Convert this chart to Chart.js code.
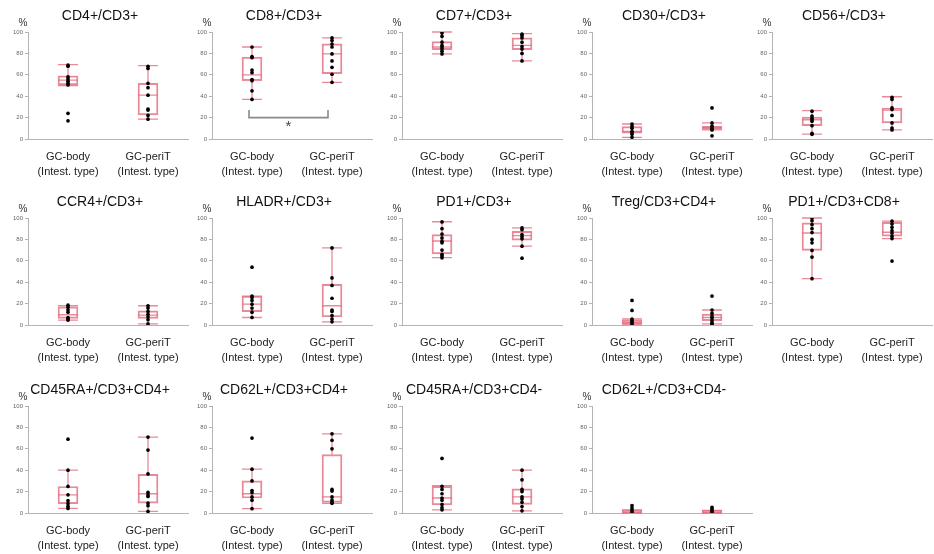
<!DOCTYPE html>
<html><head><meta charset="utf-8">
<script src="https://cdn.jsdelivr.net/npm/chart.js@4"></script>
<style>
html,body{margin:0;padding:0;background:#fff;}
#wrap{position:relative;width:934px;height:554px;overflow:hidden;background:#fff;}
canvas.panel{position:absolute;}
</style></head><body><div id="wrap"></div>
<script>
// ---------------- DATA ----------------
const panelTitles = [
  'CD4+/CD3+', 'CD8+/CD3+', 'CD7+/CD3+', 'CD30+/CD3+', 'CD56+/CD3+',
  'CCR4+/CD3+', 'HLADR+/CD3+', 'PD1+/CD3+', 'Treg/CD3+CD4+', 'PD1+/CD3+CD8+',
  'CD45RA+/CD3+CD4+', 'CD62L+/CD3+CD4+', 'CD45RA+/CD3+CD4-', 'CD62L+/CD3+CD4-'
];
const groupNames = ['GC-body', 'GC-periT'];
const groupSubLabel = '(Intest. type)';
const yTickValues = [0, 20, 40, 60, 80, 100];
const yUnit = '%';

// box statistics per panel: [GC-body, GC-periT]
const boxMin = [
  [50, 18.5], [37, 53], [79.5, 73], [1.6, 8.5], [4.5, 8.5],
  [4.5, 1], [7, 3], [63, 73.7], [0.5, 1], [43.3, 80.8],
  [4.3, 1.5], [4, 9], [3, 2], [0, 0]
];
const boxQ1 = [
  [50.5, 22.5], [54.5, 61], [83.5, 83.5], [5.5, 9], [12.5, 15],
  [6.2, 6.2], [12.4, 7.7], [66.5, 79.3], [1, 4], [69.7, 83],
  [8.7, 9.3], [14, 10], [7.5, 8], [0.3, 0.3]
];
const boxMedian = [
  [55, 41], [60, 79.5], [86, 87.5], [7, 10.5], [18, 27],
  [9.6, 9.3], [19.5, 18], [78.5, 83.6], [2.5, 7], [86, 86.7],
  [17, 18], [18, 15], [14, 15], [1, 1]
];
const boxQ3 = [
  [59, 52], [76.5, 89], [91, 94.5], [11.5, 12], [20.5, 29],
  [17, 13.3], [27, 38], [84.5, 87.6], [4.6, 10.2], [95.4, 96],
  [24.8, 36.2], [30, 54.5], [25, 22.5], [3, 2.5]
];
const boxMax = [
  [69.5, 68.5], [86, 94.5], [100, 98.5], [14, 15], [26.5, 39.5],
  [18, 18], [27, 72], [96.5, 90.7], [5.6, 14], [100, 97],
  [40, 71], [41, 74], [25.5, 40], [3, 2.5]
];
// individual cases
const pointsBody = [
  [69, 68, 58, 56, 54, 52, 50.5, 24, 17],
  [86, 77, 76, 64.5, 62, 55.5, 54.5, 45, 37],
  [99, 96, 90.5, 87.5, 86, 84, 82, 79.5],
  [14, 12, 10, 7, 6, 4.5, 1.6],
  [26, 21.5, 19.5, 18, 16.5, 12.5, 5.3, 4.4],
  [18.5, 16.5, 14, 12, 7, 5.6, 4.6],
  [54, 27, 25.7, 23, 19.5, 15.8, 12, 7],
  [96.3, 90, 85, 81.4, 78.3, 76.8, 70, 66, 64.4, 62.8],
  [23, 13.6, 5.6, 4, 2.5, 1],
  [100, 97.5, 93.8, 90, 86.4, 80, 76.8, 69.7, 63.5, 43.3],
  [69, 40, 24.8, 17, 11.5, 8.7, 6.2, 4.3],
  [70, 41, 30, 21, 19, 15, 12, 4],
  [51, 25, 22, 18, 14, 12, 8, 5, 3],
  [7, 4.6, 2.5, 0.6]
];
const pointsPeriT = [
  [68, 66, 52, 48, 41, 28, 27, 22, 18.5],
  [94.5, 92, 88.8, 86, 79.5, 73, 67, 60.5, 53],
  [98, 96.5, 94.5, 90.5, 86.5, 84, 80, 73],
  [29, 15, 12, 10.5, 9, 8.5, 3],
  [39, 37, 29, 27.5, 22, 15, 10.3, 8.4],
  [18, 15.8, 12.7, 10, 7.7, 5, 1],
  [72, 44, 37, 25, 14, 12.7, 8.7, 5.6, 3],
  [90.7, 89, 84.5, 82.4, 80.5, 73.7, 62.5],
  [27, 14, 10.8, 8, 6.5, 4, 2, 1],
  [97, 94.4, 91.3, 88.2, 86, 83, 80.8, 59.7],
  [71, 58.8, 36.5, 19.2, 17, 15.5, 9.3, 6.8, 1.5],
  [74, 68, 60, 22, 20.5, 15, 12, 10, 9],
  [40, 31, 22, 20, 15, 13, 10, 6, 2],
  [5.3, 3.7, 2.2, 0.9]
];
// significance marks: panel index, bracket level, bracket arm top, label, label level
const sigPanels = [1];
const sigLevel = [20];
const sigArmTop = [27];
const sigLabel = ['*'];
const sigLabelLevel = [13];

// ---------------- LAYOUT / STYLE ----------------
const colLeft = [0, 184, 374, 564, 744];
const rowTop = [0, 186, 374];
const FONT = "'Liberation Sans', Arial, Helvetica, sans-serif";
const BOX_COLOR = 'rgba(228,112,130,0.82)';
const AXIS_COLOR = '#b4b4b4';

const boxExtras = {
  id: 'boxExtras',
  beforeDatasetsDraw(chart, args, opts) {
    const p = opts.panel;
    const xs = chart.scales.x, ys = chart.scales.y, ctx = chart.ctx;
    ctx.save();
    ctx.strokeStyle = BOX_COLOR;
    ctx.lineWidth = 1.3;
    for (let g = 0; g < 2; g++) {
      const cx = xs.getPixelForValue(g);
      const hw = 10;
      const yMin = ys.getPixelForValue(boxMin[p][g]);
      const yQ1 = ys.getPixelForValue(boxQ1[p][g]);
      const yMed = ys.getPixelForValue(boxMedian[p][g]);
      const yQ3 = ys.getPixelForValue(boxQ3[p][g]);
      const yMax = ys.getPixelForValue(boxMax[p][g]);
      ctx.beginPath();
      ctx.moveTo(cx, yQ3); ctx.lineTo(cx, yMax);
      ctx.moveTo(cx, yQ1); ctx.lineTo(cx, yMin);
      ctx.moveTo(cx - hw, yMax); ctx.lineTo(cx + hw, yMax);
      ctx.moveTo(cx - hw, yMin); ctx.lineTo(cx + hw, yMin);
      ctx.moveTo(cx - hw, yMed); ctx.lineTo(cx + hw, yMed);
      ctx.stroke();
    }
    ctx.restore();
  },
  afterDraw(chart, args, opts) {
    const p = opts.panel;
    const xs = chart.scales.x, ys = chart.scales.y, ctx = chart.ctx;
    const ca = chart.chartArea;
    ctx.save();
    ctx.fillStyle = '#333';
    ctx.font = '10px ' + FONT;
    ctx.textAlign = 'center';
    ctx.textBaseline = 'middle';
    ctx.fillText(yUnit, ca.left - 5, ca.top - 9);
    const k = sigPanels.indexOf(p);
    if (k >= 0) {
      const x1 = xs.getPixelForValue(0) - 3, x2 = xs.getPixelForValue(1) - 4;
      const yl = ys.getPixelForValue(sigLevel[k]);
      const yt = ys.getPixelForValue(sigArmTop[k]);
      ctx.strokeStyle = '#8a8a8a';
      ctx.lineWidth = 1.6;
      ctx.beginPath();
      ctx.moveTo(x1, yt); ctx.lineTo(x1, yl); ctx.lineTo(x2, yl); ctx.lineTo(x2, yt);
      ctx.stroke();
      ctx.fillStyle = '#444';
      ctx.font = '15px ' + FONT;
      ctx.fillText(sigLabel[k], (x1 + x2) / 2, ys.getPixelForValue(sigLabelLevel[k]) + 2);
    }
    ctx.restore();
  }
};

const wrap = document.getElementById('wrap');
panelTitles.forEach((title, i) => {
  const col = i % 5, row = Math.floor(i / 5);
  const cv = document.createElement('canvas');
  cv.className = 'panel';
  cv.width = 200; cv.height = 186;
  cv.style.left = colLeft[col] + 'px';
  cv.style.top = rowTop[row] + 'px';
  cv.style.width = '200px'; cv.style.height = '186px';
  wrap.appendChild(cv);

  const scatterData = [];
  pointsBody[i].forEach(v => scatterData.push({x: groupNames[0], y: v}));
  pointsPeriT[i].forEach(v => scatterData.push({x: groupNames[1], y: v}));

  new Chart(cv, {
    type: 'bar',
    data: {
      labels: groupNames,
      datasets: [
        {
          type: 'scatter',
          data: scatterData,
          pointRadius: 1.85,
          pointBackgroundColor: '#000',
          pointBorderWidth: 0,
          showLine: false,
          order: 1
        },
        {
          type: 'bar',
          data: [[boxQ1[i][0], boxQ3[i][0]], [boxQ1[i][1], boxQ3[i][1]]],
          backgroundColor: 'rgba(0,0,0,0)',
          borderColor: BOX_COLOR,
          borderWidth: 1.3,
          borderSkipped: false,
          barThickness: 20,
          order: 2
        }
      ]
    },
    options: {
      responsive: false,
      animation: false,
      devicePixelRatio: 1,
      layout: { padding: { left: 0, right: 0, top: 0, bottom: 0 } },
      plugins: {
        legend: { display: false },
        tooltip: { enabled: false },
        title: {
          display: true,
          text: title,
          color: '#111',
          font: { family: FONT, size: 14, weight: 'normal', lineHeight: 1.2 },
          padding: { top: 8, bottom: 7.2 }
        },
        boxExtras: { panel: i }
      },
      scales: {
        x: {
          type: 'category',
          offset: true,
          grid: { display: false, drawTicks: false },
          border: { display: true, color: AXIS_COLOR, width: 1 },
          ticks: {
            color: '#222',
            padding: 11,
            maxRotation: 0,
            autoSkip: false,
            font: { family: FONT, size: 11, lineHeight: 1.35 },
            callback: (v, idx) => [groupNames[idx], groupSubLabel]
          },
          afterFit: s => { s.height = 47; }
        },
        y: {
          type: 'linear',
          min: yTickValues[0],
          max: yTickValues[yTickValues.length - 1],
          afterBuildTicks: s => { s.ticks = yTickValues.map(v => ({value: v})); },
          grid: { display: true, drawOnChartArea: false, drawTicks: true, tickLength: 3, color: AXIS_COLOR },
          border: { display: true, color: AXIS_COLOR, width: 1 },
          ticks: { color: '#666', padding: 2, font: { family: FONT, size: 6 } },
          afterFit: s => { s.width = 28; }
        },
        yPad: {
          type: 'linear',
          position: 'right',
          display: true,
          grid: { display: false, drawTicks: false },
          border: { display: false },
          ticks: { display: false },
          afterFit: s => { s.width = 12; }
        }
      }
    },
    plugins: [boxExtras]
  });
});
</script>
</body></html>
